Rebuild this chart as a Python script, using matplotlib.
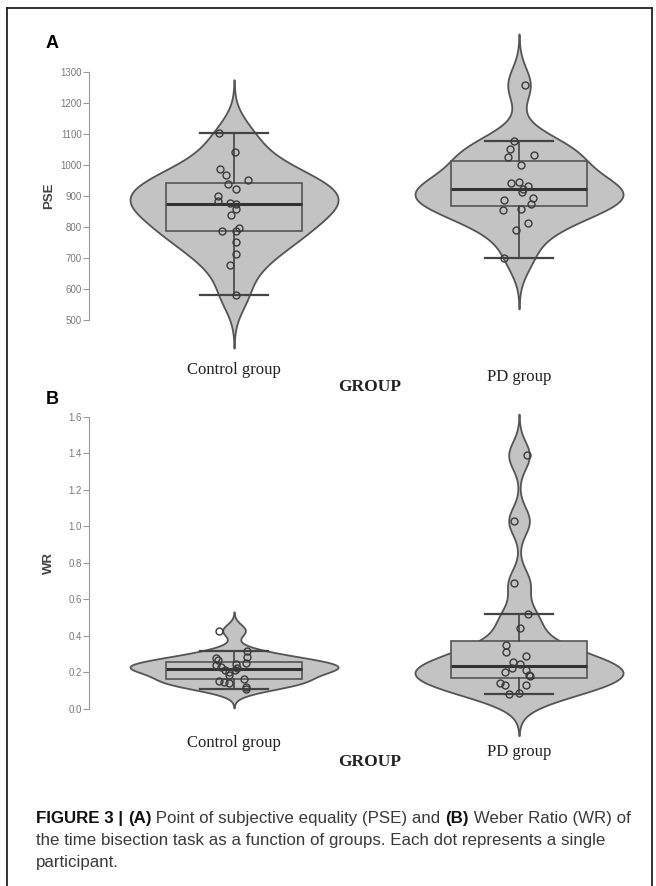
import numpy as np
import matplotlib
matplotlib.use("Agg")
import matplotlib.pyplot as plt
from matplotlib.transforms import blended_transform_factory

# Panel A: PSE values per participant
pse_control = [1103, 1043, 987, 968, 952, 939, 923, 900, 884, 877,
               874, 858, 839, 787, 797, 787, 752, 713, 677, 581]
pse_control_jit = [-15, 1, -14, -8, 14, -6, 2, -16, -16, -4,
                   2, 2, -3, -12, 5, 2, 2, 2, -4, 2]
pse_pd = [1258, 1077, 1052, 1026, 1032, 1000, 943, 945, 933, 923,
          913, 887, 894, 874, 855, 858, 813, 790, 700]
pse_pd_jit = [6, -5, -9, -11, 15, 2, -8, 0, 9, 4,
              3, -15, 14, 12, -16, 2, 9, -3, -15]

# Panel B: Weber ratio values per participant
wr_control = [0.43, 0.32, 0.285, 0.28, 0.27, 0.25, 0.245, 0.24, 0.23, 0.215,
              0.205, 0.215, 0.225, 0.155, 0.15, 0.145, 0.165, 0.185, 0.12, 0.108]
wr_control_jit = [-15, 13, 13, -18, -16, 12, 2, -18, -13, -9,
                  -5, 1, 3, -15, -10, -5, 10, -5, 12, 12]
wr_pd = [1.39, 1.03, 0.69, 0.52, 0.445, 0.35, 0.31, 0.29, 0.257, 0.245,
         0.226, 0.214, 0.204, 0.187, 0.18, 0.14, 0.13, 0.13, 0.08, 0.087]
wr_pd_jit = [8, -5, -5, 9, 1, -13, -13, 7, -6, 1,
             -7, 7, -14, 10, 11, -19, -14, 7, -10, 0]

groups = ["Control group", "PD group"]
pse_ticks = [500, 600, 700, 800, 900, 1000, 1100, 1200, 1300]
wr_ticks = [0.0, 0.2, 0.4, 0.6, 0.8, 1.0, 1.2, 1.4, 1.6]

W, H = 656, 886
FILL = "#c3c3c3"
EDGE = "#555555"


def bw_nrd0(x):
    x = np.asarray(x, float)
    iqr = np.subtract(*np.percentile(x, [75, 25]))
    lo = min(np.std(x, ddof=1), iqr / 1.34)
    return 0.9 * lo * len(x) ** -0.2


def violin(ax, data, pos, half=0.365):
    d = np.asarray(data, float)
    bw = bw_nrd0(d)
    grid = np.linspace(d.min() - 3 * bw, d.max() + 3 * bw, 512)
    dens = np.exp(-0.5 * ((grid[:, None] - d[None, :]) / bw) ** 2).sum(axis=1)
    dens = dens / dens.max() * half
    ax.fill_betweenx(grid, pos - dens, pos + dens, facecolor=FILL,
                     edgecolor=EDGE, linewidth=1.3, zorder=1)


def panel(ax, datasets, jitters, ticks, ylim, ylabel, lab_y):
    for i, d in enumerate(datasets):
        violin(ax, d, i)
    ax.boxplot(datasets, positions=[0, 1], widths=0.48, whis=1.5,
               showfliers=False, patch_artist=True, manage_ticks=False,
               boxprops=dict(facecolor=FILL, edgecolor=EDGE, linewidth=1.2),
               medianprops=dict(color="#333333", linewidth=2.2),
               whiskerprops=dict(color="#444444", linewidth=1.2),
               capprops=dict(color="#444444", linewidth=1.6), capwidths=0.24,
               zorder=2)
    for i, (d, j) in enumerate(zip(datasets, jitters)):
        ax.plot(i + np.asarray(j) / 285.0, d, "o", ms=5.0, mfc="none",
                mec="#3a3a3a", mew=1.0, zorder=3)
    ax.set_xlim(-0.509, 1.421)
    ax.set_ylim(*ylim)
    for s in ["top", "right", "bottom"]:
        ax.spines[s].set_visible(False)
    ax.spines["left"].set_color("#9a9a9a")
    ax.spines["left"].set_bounds(ticks[0], ticks[-1])
    ax.set_xticks([])
    ax.set_yticks(ticks)
    ax.tick_params(axis="y", length=4, color="#9a9a9a", labelsize=7,
                   labelcolor="#7a7a7a", pad=1)
    tr = blended_transform_factory(fig.transFigure, ax.transData)
    ax.text(49 / W, (ticks[0] + ticks[-1]) / 2, ylabel, transform=tr,
            rotation=90, ha="center", va="center", fontsize=9.5,
            color="#444444", fontweight="bold")
    tr2 = blended_transform_factory(ax.transData, fig.transFigure)
    for i, g in enumerate(groups):
        ax.text(i, 1 - lab_y[i] / H, g, transform=tr2, ha="center",
                va="center", family="Liberation Serif", fontsize=12,
                color="#222222")
    fig.text(370 / W, 1 - lab_y[2] / H, "GROUP", ha="center", va="center",
             family="Liberation Serif", fontsize=12.5, fontweight="bold",
             color="#222222")


fig = plt.figure(figsize=(W / 100, H / 100), dpi=100)
plt.rcParams["font.family"] = ["Liberation Sans", "DejaVu Sans"]

axA = fig.add_axes([89 / W, 1 - 354 / H, 550 / W, (354 - 28.6) / H])
panel(axA, [pse_control, pse_pd], [pse_control_jit, pse_pd_jit],
      pse_ticks, (390, 1440), "PSE", [370, 377, 387])
axA.set_yticklabels([str(t) for t in pse_ticks])

axB = fig.add_axes([89 / W, 1 - 738.2 / H, 550 / W, (738.2 - 411.5) / H])
panel(axB, [wr_control, wr_pd], [wr_control_jit, wr_pd_jit],
      wr_ticks, (-0.16, 1.63), "WR", [743, 752, 762])
axB.set_yticklabels([f"{t:.1f}" for t in wr_ticks])

fig.text(52 / W, 1 - 43 / H, "A", fontsize=13, fontweight="bold",
         ha="center", va="center")
fig.text(52 / W, 1 - 400 / H, "B", fontsize=13, fontweight="bold",
         ha="center", va="center")

# outer frame
fig.add_artist(plt.Line2D([7 / W, 7 / W], [0, 1 - 8 / H], color="#222222",
                          lw=1.3, transform=fig.transFigure))
fig.add_artist(plt.Line2D([7 / W, 652 / W], [1 - 8 / H, 1 - 8 / H],
                          color="#222222", lw=1.3, transform=fig.transFigure))
fig.add_artist(plt.Line2D([652 / W, 652 / W], [1 - 8 / H, 0],
                          color="#222222", lw=1.3, transform=fig.transFigure))

# caption, written run by run so bold and regular parts can mix
caption = [
    [("FIGURE 3 | ", "bold"), ("(A)", "bold"),
     (" Point of subjective equality (PSE) and ", "normal"), ("(B)", "bold"),
     (" Weber Ratio (WR) of", "normal")],
    [("the time bisection task as a function of groups. Each dot represents a single", "normal")],
    [("participant.", "normal")],
]
renderer = fig.canvas.get_renderer()
for k, line in enumerate(caption):
    x = 36
    y = 1 - (818 + 22 * k) / H
    for s, wgt in line:
        t = fig.text(x / W, y, s, fontsize=12.2, fontweight=wgt,
                     color="#111111" if wgt == "bold" else "#3a3a3a",
                     va="center", ha="left")
        x += t.get_window_extent(renderer).width

fig.savefig("out.png", dpi=100)
